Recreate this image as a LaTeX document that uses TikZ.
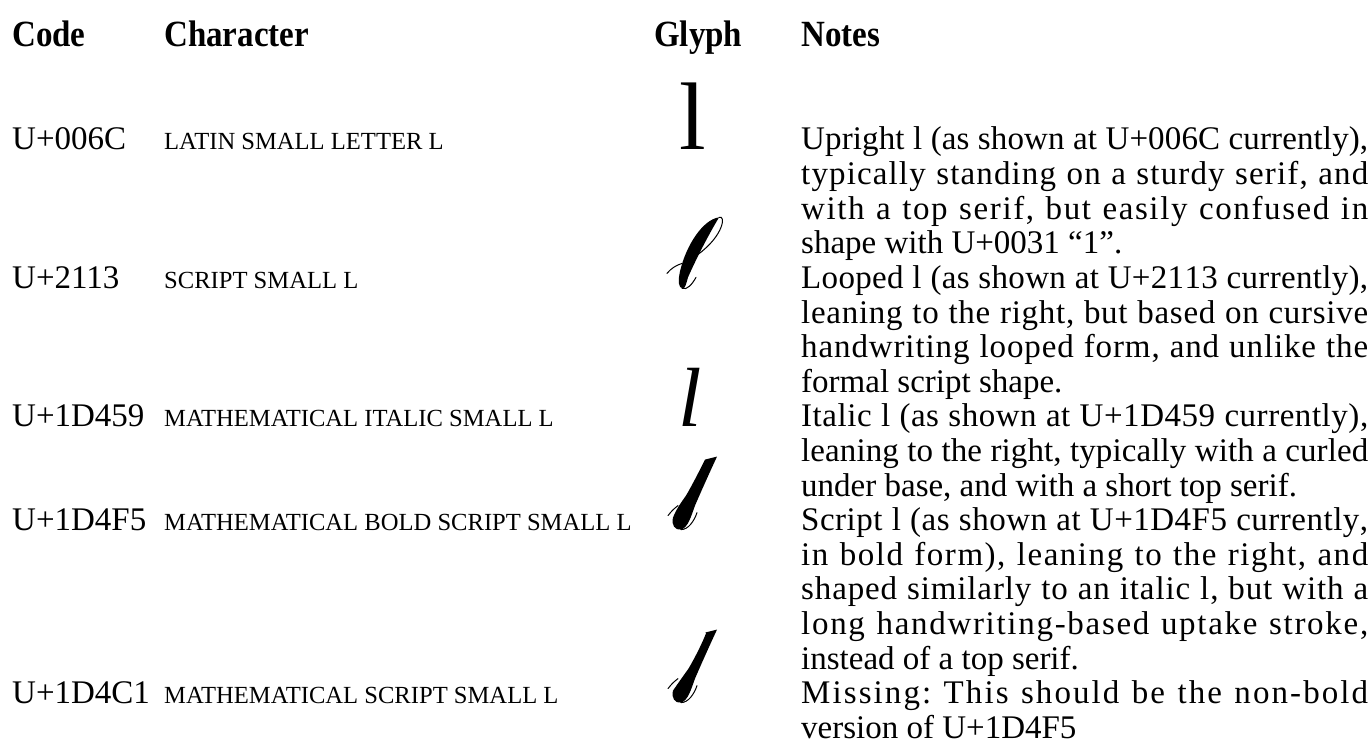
\documentclass[tikz,border=0pt]{standalone}
\usepackage{fontspec}
\setmainfont{Liberation Serif}
% font size given in pixels of the final picture (1pt = 1px here)
\newcommand\fpx[1]{\fontsize{#1pt}{#1pt}\selectfont}
% letter-spaced justification: every gap between characters may stretch
\ExplSyntaxOn
\NewDocumentCommand\spreadit{m}
  {
    \bool_set_false:N \l_tmpa_bool
    \str_map_inline:nn {#1}
      {
        \bool_if:NT \l_tmpa_bool { \hskip 0pt plus 1fil \relax }
        \bool_set_true:N \l_tmpa_bool
        \str_if_eq:nnTF {##1} {~} { \hskip 0.25em \relax } { ##1 }
      }
  }
\ExplSyntaxOff
% one fully justified line of the notes column
\newcommand\jline[1]{\makebox[567pt][s]{\spreadit{#1}}}
% baseline of text line number #1
\newcommand\ly[1]{150+34.6*#1}

\begin{document}
\begin{tikzpicture}[x=1pt,y=-1pt,
  txt/.style={anchor=base west, inner sep=0pt, font=\fpx{33}},
  head/.style={anchor=base west, inner sep=0pt, font=\fpx{33}\bfseries, yscale=1.12, transform shape},
  cname/.style={anchor=base west, inner sep=0pt, font=\fpx{24.6}},
  glyph/.style={anchor=base, inner sep=0pt, font=\fpx{96}},
  ink/.style={fill=black, draw=none},
  hair/.style={draw=black, line width=1pt, line cap=round, fill=none},
  % calligraphic script l; the argument thins the stem
  pics/scriptl/.style={code={
    \path[ink] (37,-70) -- (49,-73)
      .. controls (42,-58) and (33,-38) .. (27,-24)
      .. controls (23,-13) and (20,-2) .. (13,0)
      .. controls (7,1) and (3,-5) .. (5,-12)
      .. controls ({8+#1},-20) and ({13+#1},-27) .. ({18+#1},-34)
      .. controls ({25+#1},-46) and ({32+#1},-60) .. ({37+#1*0.5},-70) -- cycle;
    \draw[hair] (13,0) .. controls (20,0) and (26,-8) .. (29,-17);
    \draw[hair] (0,-14) .. controls (3,-18) and (6,-21) .. (10,-24);
  }},
  % looped script small l
  pics/loopedl/.style={code={
    \path[ink] (52,-71)
      .. controls (36,-69) and (19,-43) .. (13,-17)
      .. controls (11,-8) and (11,0) .. (16,0)
      .. controls (18,0) and (19,-4) .. (21,-11)
      .. controls (28,-27) and (40,-51) .. (52,-71) -- cycle;
    \draw[hair] (52,-71) .. controls (59,-74) and (57,-53) .. (31,-34);
    \draw[hair] (15,0) .. controls (20,2) and (25,-4) .. (29,-11);
    \draw[hair] (0,-15) .. controls (4,-20) and (9,-23) .. (15,-25);
  }},
]
\useasboundingbox (0,0) rectangle (1372,743);

% column headings
\node[head] (hcode) at (12,47) {Code};
\node[head] (hchar) at (164,47) {Character};
\node[head] (hglyph) at (654,47) {Glyph};
\node[head] (hnotes) at (801,47) {Notes};

% code points
\node[txt] (c1) at (12,{\ly{0}}) {U+006C};
\node[txt] (c2) at (12,{\ly{4}}) {U+2113};
\node[txt] (c3) at (12,{\ly{8}}) {U+1D459};
\node[txt] (c4) at (12,{\ly{11}}) {U+1D4F5};
\node[txt] (c5) at (12,{\ly{16}}) {U+1D4C1};

% character names
\node[cname] (k1) at (164,{\ly{0}}) {LATIN SMALL LETTER L};
\node[cname] (k2) at (164,{\ly{4}}) {SCRIPT SMALL L};
\node[cname] (k3) at (164,{\ly{8}}) {MATHEMATICAL ITALIC SMALL L};
\node[cname] (k4) at (164,{\ly{11}}) {MATHEMATICAL BOLD SCRIPT SMALL L};
\node[cname] (k5) at (164,{\ly{16}}) {MATHEMATICAL SCRIPT SMALL L};

% glyphs, standing on the baseline of their row
\node[glyph] (g1) at (692.5,{\ly{0}}) {l};
\pic (g2) at (667,{\ly{4}}) {loopedl};
\node[glyph, font=\fpx{84}\itshape] (g3) at (690,{\ly{8}}) {l};
\pic (g4) at (668,{\ly{11}-1}) {scriptl=0};
\pic (g5) at (668,{\ly{16}-1}) {scriptl=2.5};

% notes
\node[txt] (n0)  at (801,{\ly{0}})  {\jline{Upright l (as shown at U+006C currently),}};
\node[txt] (n1)  at (801,{\ly{1}})  {\jline{typically standing on a sturdy serif, and}};
\node[txt] (n2)  at (801,{\ly{2}})  {\jline{with a top serif, but easily confused in}};
\node[txt] (n3)  at (801,{\ly{3}})  {shape with U+0031 “1”.};
\node[txt] (n4)  at (801,{\ly{4}})  {\jline{Looped l (as shown at U+2113 currently),}};
\node[txt] (n5)  at (801,{\ly{5}})  {\jline{leaning to the right, but based on cursive}};
\node[txt] (n6)  at (801,{\ly{6}})  {\jline{handwriting looped form, and unlike the}};
\node[txt] (n7)  at (801,{\ly{7}})  {formal script shape.};
\node[txt] (n8)  at (801,{\ly{8}})  {\jline{Italic l (as shown at U+1D459 currently),}};
\node[txt] (n9)  at (801,{\ly{9}})  {\jline{leaning to the right, typically with a curled}};
\node[txt] (n10) at (801,{\ly{10}}) {under base, and with a short top serif.};
\node[txt] (n11) at (801,{\ly{11}}) {\jline{Script l (as shown at U+1D4F5 currently,}};
\node[txt] (n12) at (801,{\ly{12}}) {\jline{in bold form), leaning to the right, and}};
\node[txt] (n13) at (801,{\ly{13}}) {\jline{shaped similarly to an italic l, but with a}};
\node[txt] (n14) at (801,{\ly{14}}) {\jline{long handwriting-based uptake stroke,}};
\node[txt] (n15) at (801,{\ly{15}}) {instead of a top serif.};
\node[txt] (n16) at (801,{\ly{16}}) {\jline{Missing: This should be the non-bold}};
\node[txt] (n17) at (801,{\ly{17}}) {version of U+1D4F5};
\end{tikzpicture}
\end{document}
